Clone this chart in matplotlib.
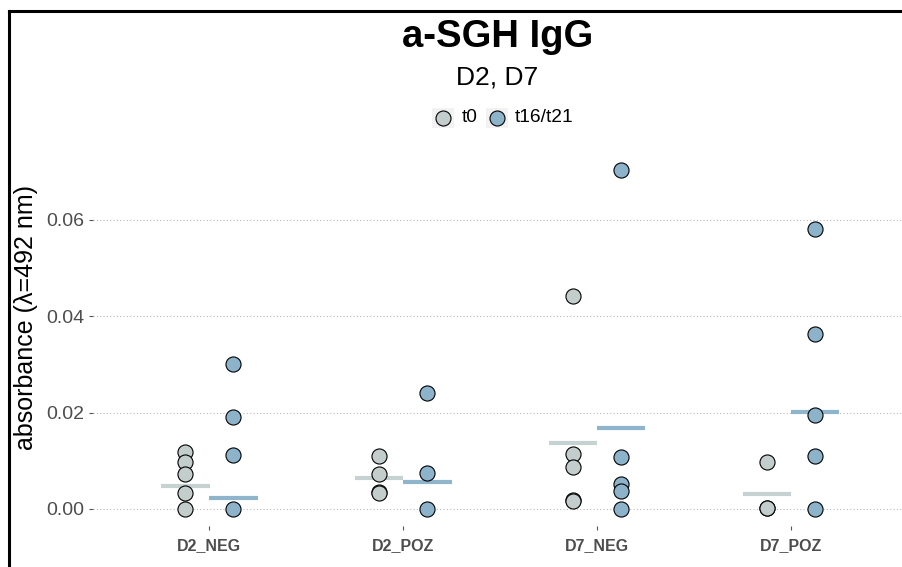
import matplotlib
matplotlib.use("Agg")
import matplotlib.pyplot as plt
from matplotlib.lines import Line2D
from matplotlib.patches import Rectangle

plt.rcParams['font.family'] = ['Liberation Sans', 'DejaVu Sans']

categories = ["D2_NEG", "D2_POZ", "D7_NEG", "D7_POZ"]
series_names = ["t0", "t16/t21"]

t0_values = [
    [0.0119, 0.0098, 0.0073, 0.0034, 0.0001],
    [0.0111, 0.0073, 0.0036, 0.0034],
    [0.0442, 0.0114, 0.0088, 0.0019, 0.0017],
    [0.0098, 0.0003, 0.0002],
]
t16_values = [
    [0.0302, 0.0192, 0.0113, 0.0001],
    [0.0241, 0.0074, 0.0001],
    [0.0704, 0.0107, 0.0051, 0.0038, 0.0001],
    [0.0581, 0.0363, 0.0195, 0.0111, 0.0001],
]
t0_summary = [0.0048, 0.0065, 0.0136, 0.0031]
t16_summary = [0.0022, 0.0057, 0.0169, 0.0201]

y_ticks = [0.00, 0.02, 0.04, 0.06]
y_tick_labels = ["0.00", "0.02", "0.04", "0.06"]

col_t0 = "#C3CDCC"
col_t16 = "#8DB3CB"
line_t0 = "#C6D2D2"
line_t16 = "#8FB5CD"

fig = plt.figure(figsize=(9.02, 5.67), dpi=100)
ax = fig.add_axes([93/902, 1-526/567, 1-93/902, (526-153)/567])

dodge = 0.124
half = 0.125
for i, cat in enumerate(categories):
    for vals, summ, off, fc, lc in [
        (t0_values[i], t0_summary[i], -dodge, col_t0, line_t0),
        (t16_values[i], t16_summary[i], dodge, col_t16, line_t16),
    ]:
        x = i + off
        ax.plot([x - half, x + half], [summ, summ], color=lc, lw=3.0,
                solid_capstyle='butt', zorder=2)
        ax.scatter([x]*len(vals), vals, s=118, facecolor=fc, edgecolor="black",
                   linewidth=0.8, zorder=3)

ax.set_xlim(-0.6, 3.572)
ax.set_ylim(-0.00353, 0.0739)
ax.set_xticks(range(len(categories)))
ax.set_xticklabels(categories, fontsize=11.5, fontweight='bold', color="#4D4D4D")
ax.set_yticks(y_ticks)
ax.set_yticklabels(y_tick_labels, fontsize=14, color="#4D4D4D")
ax.tick_params(axis='x', length=3, color="#555555", pad=6)
ax.tick_params(axis='y', length=3, color="#555555", pad=3)
ax.yaxis.grid(True, linestyle=(0, (1, 2)), color="#BBBBBB", linewidth=0.8)
ax.set_axisbelow(True)
for s in ax.spines.values():
    s.set_visible(False)
ax.set_ylabel("absorbance (λ=492 nm)", fontsize=18, color="black")
ax.yaxis.set_label_coords((38-93)/809, (526-318)/373)

# titles
cx = (93 + 902) / 2 / 902
fig.text(cx, 1-46.7/567, "a-SGH IgG", ha='center', va='baseline',
         fontsize=27.5, fontweight='bold')
fig.text(cx, 1-84/567, "D2, D7", ha='center', va='baseline', fontsize=19)

# legend
ly = 1 - 118/567
for (kx, name, fc, tx) in [(432, series_names[0], col_t0, 462),
                           (486, series_names[1], col_t16, 515)]:
    fig.add_artist(Rectangle((kx/902, 1-128/567), 22/902, 20/567,
                             transform=fig.transFigure, facecolor="#F2F2F2",
                             edgecolor="none"))
    fig.add_artist(Line2D([(kx+11)/902], [ly], marker='o', markersize=10.8,
                          markerfacecolor=fc, markeredgecolor="black",
                          markeredgewidth=0.8, linestyle='none',
                          transform=fig.transFigure))
    fig.text(tx/902, ly, name, ha='left', va='center', fontsize=13.8)

# border lines (top and left)
fig.add_artist(Line2D([8.5/902, 1], [1-11/567, 1-11/567], color="black", lw=2.2,
                      transform=fig.transFigure))
fig.add_artist(Line2D([8.5/902, 8.5/902], [0, 1-11/567], color="black", lw=2.2,
                      transform=fig.transFigure))

fig.savefig("out.png", dpi=100)
